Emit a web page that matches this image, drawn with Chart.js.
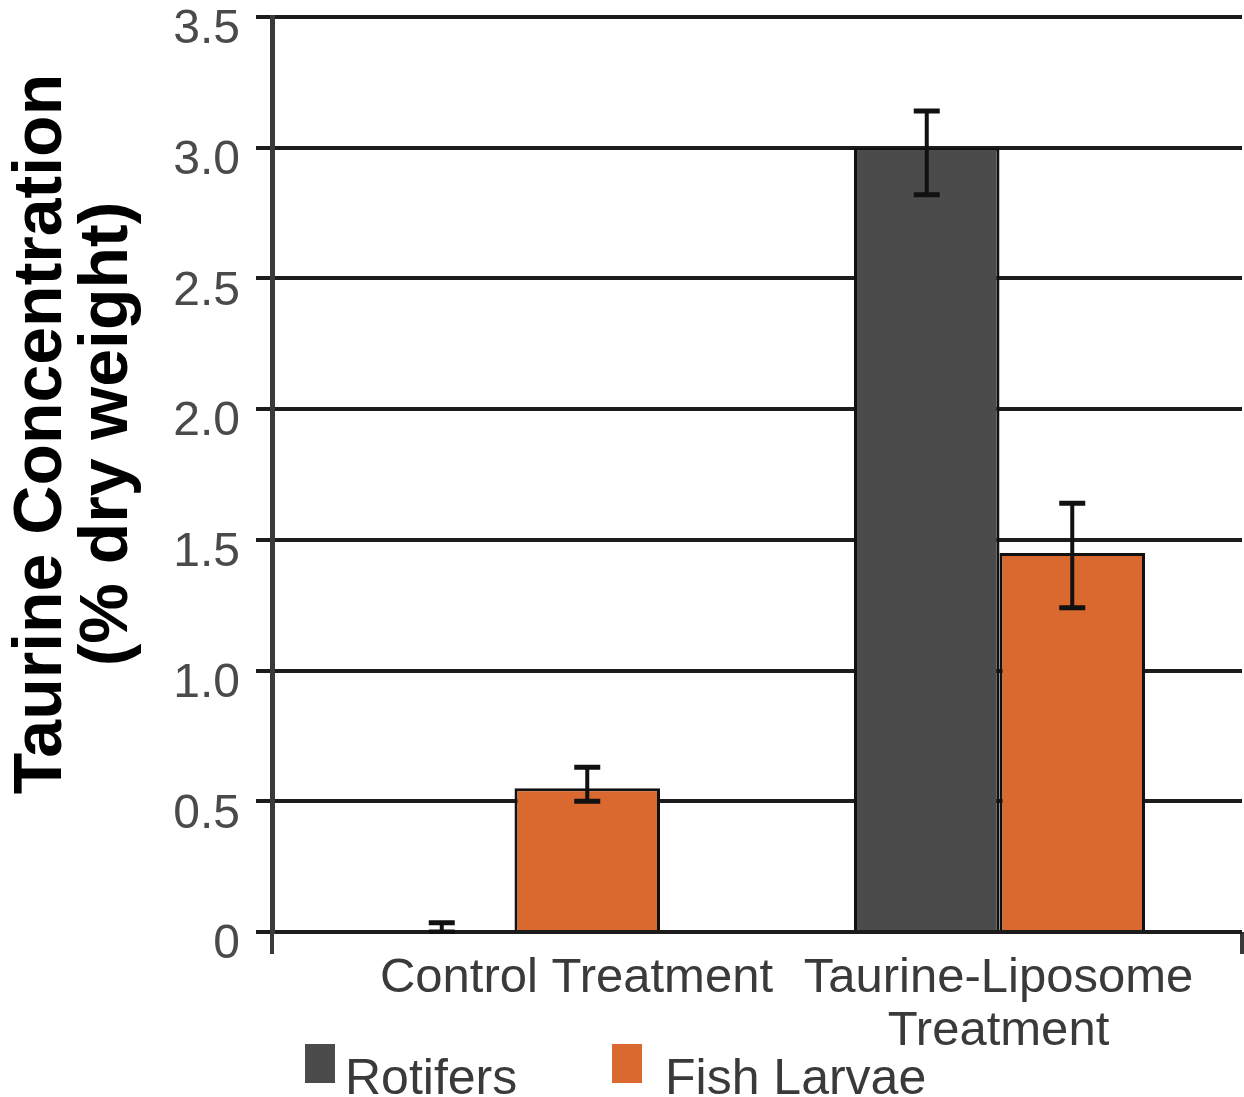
<!DOCTYPE html>
<html lang="en">
<head>
  <meta charset="UTF-8">
  <title>Taurine Concentration</title>
  <script src="https://cdn.jsdelivr.net/npm/chart.js"></script>
  <style>
    body { margin: 0; background: #fff; }
  </style>
</head>
<body>
<canvas id="myChart" width="1244" height="1097"></canvas>

<script>
  // Data
  var treatments = [['Control Treatment'], ['Taurine-Liposome', 'Treatment']];
  var seriesNames = ['Rotifers', 'Fish Larvae'];
  var rotifers = [0, 3.0];
  var fishLarvae = [0.55, 1.45];
  // error bar ends (low / high)
  var rotifersLow = [0, 2.82];
  var rotifersHigh = [0.035, 3.14];
  var larvaeLow = [0.50, 1.24];
  var larvaeHigh = [0.63, 1.64];
  var yTicks = [0, 0.5, 1.0, 1.5, 2.0, 2.5, 3.0, 3.5];
  var yTickLabels = ['0', '0.5', '1.0', '1.5', '2.0', '2.5', '3.0', '3.5'];
  var yTitle = ['Taurine Concentration', '(% dry weight)'];

  var FONT = '"Liberation Sans", Arial, sans-serif';
  Chart.defaults.font.family = FONT;

  // x category labels are nudged like in the original layout
  var labelShift = [62, -1];

  // error bars drawn from the y scale
  var errorBars = {
    id: 'errorBars',
    afterDatasetsDraw: function (chart) {
      var ctx = chart.ctx;
      var y = chart.scales.y;
      var area = chart.chartArea;
      ctx.save();
      ctx.beginPath();
      ctx.rect(area.left, 0, area.right - area.left, area.bottom + 2);
      ctx.clip();
      ctx.strokeStyle = '#111';
      chart.data.datasets.forEach(function (ds, i) {
        chart.getDatasetMeta(i).data.forEach(function (bar, j) {
          var top = y.getPixelForValue(ds.errHigh[j]);
          var bot = y.getPixelForValue(ds.errLow[j]);
          ctx.lineWidth = 4;
          ctx.beginPath();
          ctx.moveTo(bar.x, top);
          ctx.lineTo(bar.x, bot);
          ctx.stroke();
          ctx.lineWidth = 5;
          ctx.beginPath();
          ctx.moveTo(bar.x - 13, top);
          ctx.lineTo(bar.x + 13, top);
          ctx.moveTo(bar.x - 13, bot);
          ctx.lineTo(bar.x + 13, bot);
          ctx.stroke();
        });
      });
      ctx.restore();
    }
  };

  // axis title, category labels and legend
  var textLayer = {
    id: 'textLayer',
    afterDraw: function (chart) {
      var ctx = chart.ctx;
      var x = chart.scales.x;
      ctx.save();

      // y title
      ctx.translate(42, 434);
      ctx.rotate(-Math.PI / 2);
      ctx.fillStyle = '#000';
      ctx.textAlign = 'center';
      ctx.textBaseline = 'middle';
      ctx.font = 'bold 68px ' + FONT;
      ctx.fillText(yTitle[0], 0, 0);
      ctx.fillText(yTitle[1], 0, 66);
      ctx.setTransform(1, 0, 0, 1, 0, 0);

      // category labels
      ctx.font = '49px ' + FONT;
      ctx.fillStyle = '#3a3a3a';
      ctx.textBaseline = 'alphabetic';
      treatments.forEach(function (lines, i) {
        var cx = x.getPixelForValue(i) + labelShift[i];
        lines.forEach(function (line, k) {
          ctx.fillText(line, cx, 992 + k * 53);
        });
      });

      // legend
      var boxX = [305, 612];
      var textX = [345, 665];
      ctx.textAlign = 'left';
      ctx.font = '50px ' + FONT;
      chart.data.datasets.forEach(function (ds, i) {
        ctx.fillStyle = ds.backgroundColor;
        ctx.fillRect(boxX[i], 1044, 30, 39);
        ctx.fillStyle = '#3a3a3a';
        ctx.fillText(ds.label, textX[i], 1094);
      });
      ctx.restore();
    }
  };

  var ctx = document.getElementById('myChart').getContext('2d');
  var myChart = new Chart(ctx, {
    type: 'bar',
    data: {
      labels: treatments,
      datasets: [{
        label: seriesNames[0],
        data: rotifers,
        errLow: rotifersLow,
        errHigh: rotifersHigh,
        backgroundColor: '#4b4b4b',
        borderColor: '#111',
        borderWidth: 3
      }, {
        label: seriesNames[1],
        data: fishLarvae,
        errLow: larvaeLow,
        errHigh: larvaeHigh,
        backgroundColor: '#d9692f',
        borderColor: '#111',
        borderWidth: 3
      }]
    },
    options: {
      responsive: false,
      animation: false,
      layout: { padding: { top: 17, right: 2, left: 0, bottom: 0 } },
      datasets: {
        bar: { categoryPercentage: 0.6, barPercentage: 1.0 }
      },
      plugins: {
        legend: { display: false },
        tooltip: { enabled: false }
      },
      scales: {
        x: {
          ticks: { display: false },
          grid: {
            drawOnChartArea: false,
            drawTicks: true,
            tickLength: 22,
            lineWidth: 4,
            color: function (c) { return c.index === 1 ? 'rgba(0,0,0,0)' : '#3a3a3a'; }
          },
          border: { display: false },
          afterFit: function (scale) {
            scale.height = 165;
            scale.paddingLeft = 0;
            scale.paddingRight = 0;
          }
        },
        y: {
          min: 0,
          max: 3.5,
          afterBuildTicks: function (scale) {
            scale.ticks = yTicks.map(function (v) { return { value: v }; });
          },
          ticks: {
            padding: 16,
            labelOffset: 13,
            color: '#4a4a4a',
            font: { size: 48 },
            callback: function (value, index) { return yTickLabels[index]; }
          },
          grid: {
            color: '#1c1c1c',
            lineWidth: 4,
            tickLength: 16
          },
          border: { display: true, color: '#3a3a3a', width: 5 },
          afterFit: function (scale) {
            scale.width = 272;
            scale.paddingTop = 0;
            scale.paddingBottom = 0;
          }
        }
      }
    },
    plugins: [errorBars, textLayer]
  });
</script>
</body>
</html>
